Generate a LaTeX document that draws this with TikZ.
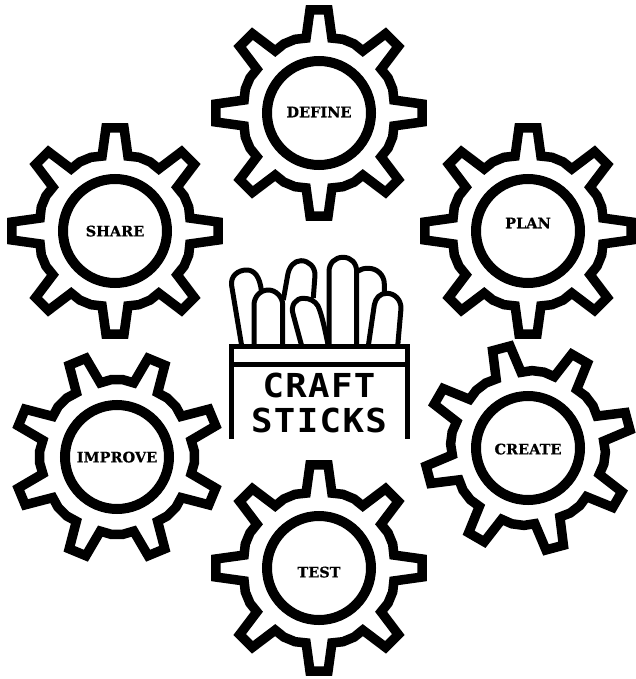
\documentclass[tikz,border=0pt]{standalone}
\usepackage{fontspec}
\newfontfamily\gearfont[BoldFeatures={FakeBold=0.5}]{DejaVu Serif}
\newfontfamily\cupfont[LetterSpace=4]{DejaVu Sans Mono}
\tikzset{
  gearline/.style={draw=black,line width=9.5pt,line join=miter,miter limit=10},
  ringline/.style={draw=black,line width=10pt},
  stickline/.style={draw=black,line width=5pt,line join=round},
  cupline/.style={draw=black,line width=5pt,line join=miter},
  gearlabel/.style={inner sep=0pt,text depth=0pt,font=\gearfont\bfseries\fontsize{14.5pt}{16pt}\selectfont},
  cuplabel/.style={inner sep=0pt,text depth=0pt,xscale=1.08,transform shape,font=\cupfont\bfseries\fontsize{33pt}{36pt}\selectfont}
}
\newcommand{\gearat}[5]{%
  \begin{scope}[shift={(#1,#2)}]
    \draw[gearline] (#3-9.8:76)
      \foreach \t in {0,45,...,315}{
        -- (#3+\t-9.8:76) -- (#3+\t-5:103.5) -- (#3+\t+5:103.5) -- (#3+\t+9.8:76)
        -- (#3+\t+18:77.5) -- (#3+\t+27:77.5)
      } -- cycle;
    \draw[ringline] (0,0) circle[radius=52];
  \end{scope}
  \node[gearlabel] (#4) at (#1,#5) {\MakeUppercase{#4}};
}
\begin{document}
\begin{tikzpicture}[x=1pt,y=-1pt]
\useasboundingbox (0,0) rectangle (635,679);
\gearat{528}{448}{30}{create}{449}
\gearat{528}{231}{0}{plan}{223}
\gearat{319}{113}{0}{define}{112}
\gearat{115}{231}{0}{share}{231}
\gearat{117}{457}{22.5}{improve}{457}
\gearat{319}{568}{0}{test}{572}
% sticks
\draw[stickline] (241.7,346) -- (231.7,286) .. controls (230,276) and (238,270) .. (246.7,270) .. controls (254,270) and (260,276) .. (261.5,292);
\draw[stickline] (254,346) -- (254,305) .. controls (254,297) and (260,290) .. (268.3,290) .. controls (276,290) and (282.7,297) .. (282.7,305) -- (282.7,346);
\draw[stickline] (283.3,300) -- (287.7,275) .. controls (289,267) and (294,260.7) .. (301,260.7) .. controls (309,260.7) and (315,267) .. (315,275) -- (313.3,298);
\draw[stickline] (301.7,346) -- (293.3,315) .. controls (290,305) and (296,298.3) .. (303.3,298.3) .. controls (310,298.3) and (315,301) .. (318,306) .. controls (322,315) and (325,330) .. (328.3,346);
\draw[stickline] (329,346) -- (329,271.7) .. controls (329,263) and (335,257.3) .. (343,257.3) .. controls (351,257.3) and (356.7,263) .. (356.7,271.7) -- (356.7,346);
\draw[stickline] (358,271) .. controls (361,269) and (364,268.3) .. (368.3,268.3) .. controls (377,268.3) and (384.3,275) .. (384.3,284) -- (384.3,293);
\draw[stickline] (368.3,346) -- (374.3,305) .. controls (375.5,298) and (380,293.3) .. (386.7,293.3) .. controls (395,293.3) and (401,300) .. (401,308.3) -- (397.7,346);
% cup
\draw[cupline] (231.7,438.5) -- (231.7,346) -- (407,346) -- (407,438.5);
\draw[cupline] (231.7,364) -- (407,364);
\node[cuplabel] (craft) at (319,385.5) {CRAFT};
\node[cuplabel] (sticks) at (319,420.5) {STICKS};
\end{tikzpicture}
\end{document}
